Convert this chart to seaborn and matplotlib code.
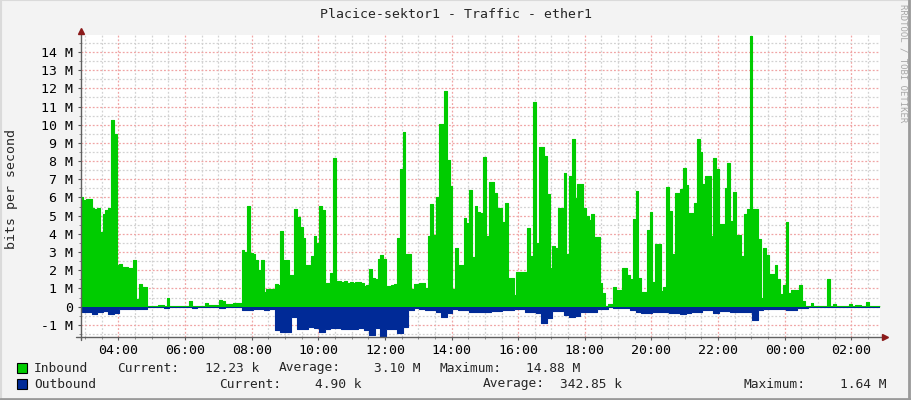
import numpy as np
import pandas as pd
import matplotlib
matplotlib.use("Agg")
import matplotlib.pyplot as plt
import seaborn as sns
from matplotlib.patches import Rectangle
from matplotlib.lines import Line2D
from matplotlib.ticker import MultipleLocator

sns.set_style("white")
plt.rcParams['font.family'] = ['DejaVu Sans Mono']

# traffic in Mbit/s, inbound every 5 min, outbound every 10 min, starting 02:52
inbound_m = [
    6.0, 5.86, 5.93, 5.93, 5.4, 5.35, 5.4, 4.1, 5.1, 5.3, 5.4, 10.26,
    9.5, 2.3, 2.35, 2.2, 2.2, 2.1, 2.1, 2.56, 0.42, 1.25, 1.1, 1.1,
    0.03, 0.03, 0.03, 0.03, 0.07, 0.07, 0.03, 0.5, 0.03, 0.03, 0.03, 0.03,
    0.03, 0.03, 0.03, 0.3, 0.03, 0.03, 0.03, 0.03, 0.03, 0.2, 0.1, 0.07,
    0.07, 0.07, 0.37, 0.3, 0.13, 0.13, 0.13, 0.22, 0.22, 0.2, 3.11, 3.02,
    5.53, 2.93, 2.9, 2.56, 2.01, 2.56, 0.82, 0.99, 0.99, 0.99, 1.25, 1.2,
    4.16, 2.56, 2.56, 1.74, 1.74, 5.37, 4.95, 4.4, 3.75, 2.29, 2.29, 2.8,
    3.9, 3.5, 5.53, 5.31, 1.28, 1.28, 1.87, 8.17, 1.43, 1.4, 1.34, 1.4,
    1.3, 1.34, 1.3, 1.37, 1.34, 1.3, 1.15, 1.2, 2.07, 1.6, 1.52, 2.6,
    2.84, 2.62, 1.15, 1.15, 1.2, 1.25, 3.79, 7.58, 9.6, 2.88, 2.88, 0.99,
    1.25, 1.25, 1.28, 1.28, 1.04, 3.9, 5.64, 3.94, 6.04, 10.04, 10.04, 11.85,
    8.06, 6.63, 0.99, 3.22, 2.29, 2.29, 4.89, 4.58, 6.41, 2.75, 5.53, 5.2,
    5.16, 8.24, 3.9, 6.87, 6.87, 6.23, 5.44, 5.44, 4.67, 5.68, 1.59, 1.59,
    0.64, 1.92, 1.92, 1.92, 1.92, 4.34, 2.8, 11.26, 3.52, 8.79, 8.79, 8.28,
    6.19, 2.14, 3.35, 3.2, 5.44, 5.44, 7.36, 2.88, 7.2, 9.21, 5.95, 6.74,
    6.74, 5.4, 4.98, 4.76, 5.09, 3.85, 3.85, 1.28, 0.73, 0.03, 0.15, 0.15,
    1.06, 0.92, 0.92, 2.1, 2.1, 1.74, 1.52, 4.8, 6.36, 1.56, 0.82, 0.82,
    4.21, 5.18, 1.34, 3.44, 3.44, 0.88, 1.1, 6.59, 5.26, 2.88, 6.23, 6.23,
    6.45, 7.6, 6.68, 5.16, 5.16, 5.68, 9.21, 8.48, 6.74, 7.18, 7.18, 3.88,
    8.15, 7.55, 4.54, 4.54, 6.54, 7.88, 4.7, 6.28, 3.94, 3.94, 2.78, 5.09,
    5.35, 14.88, 5.35, 5.35, 3.72, 0.49, 3.2, 2.84, 1.8, 1.8, 2.29, 1.52,
    0.7, 1.19, 4.63, 0.75, 0.92, 0.92, 0.92, 1.19, 0.31, 0.04, 0.04, 0.22,
    0.04, 0.04, 0.04, 0.04, 0.04, 1.52, 0.04, 0.15, 0.04, 0.04, 0.04, 0.04,
    0.04, 0.15, 0.04, 0.1, 0.1, 0.04, 0.04, 0.26, 0.04, 0.04, 0.04, 0.04,
]
outbound_m = [
    0.27, 0.27, 0.42, 0.31, 0.24, 0.42, 0.35, 0.13, 0.13, 0.13, 0.13, 0.13,
    0.02, 0.02, 0.02, 0.05, 0.02, 0.02, 0.02, 0.02, 0.05, 0.02, 0.02, 0.02,
    0.02, 0.05, 0.02, 0.02, 0.02, 0.18, 0.2, 0.15, 0.15, 0.17, 0.11, 1.3,
    1.37, 1.37, 0.55, 1.25, 1.2, 1.1, 1.19, 1.37, 1.25, 1.19, 1.19, 1.25,
    1.25, 1.22, 1.15, 1.28, 1.56, 1.19, 1.64, 1.25, 1.25, 1.46, 1.1, 0.18,
    0.09, 0.15, 0.18, 0.2, 0.31, 0.55, 0.37, 0.15, 0.18, 0.18, 0.27, 0.27,
    0.31, 0.31, 0.24, 0.24, 0.18, 0.18, 0.11, 0.11, 0.27, 0.27, 0.37, 0.92,
    0.6, 0.24, 0.24, 0.46, 0.59, 0.5, 0.31, 0.31, 0.31, 0.15, 0.15, 0.04,
    0.07, 0.07, 0.07, 0.2, 0.31, 0.37, 0.37, 0.3, 0.27, 0.3, 0.37, 0.37,
    0.42, 0.35, 0.27, 0.27, 0.2, 0.2, 0.33, 0.25, 0.25, 0.27, 0.27, 0.27,
    0.27, 0.73, 0.18, 0.15, 0.15, 0.15, 0.12, 0.2, 0.2, 0.08, 0.07, 0.03,
    0.03, 0.03, 0.03, 0.03, 0.03, 0.03, 0.03, 0.03, 0.03, 0.03, 0.03, 0.03,
]

hour_ticks = [4, 6, 8, 10, 12, 14, 16, 18, 20, 22, 24, 26]
hour_labels = ["04:00", "06:00", "08:00", "10:00", "12:00", "14:00",
               "16:00", "18:00", "20:00", "22:00", "00:00", "02:00"]
y_ticks = list(range(-1, 15))

legend_rows = [
    ("Inbound", ["Current:", "12.23 k", "Average:", "3.10 M", "Maximum:", "14.88 M"]),
    ("Outbound", ["Current:", "4.90 k", "Average:", "342.85 k", "Maximum:", "1.64 M"]),
]

green = "#00CC00"
blue = "#002A97"

start_hour = 2 + 51.7 / 60
end_hour = start_hour + 24

in_t = start_hour + np.arange(len(inbound_m)) * 5 / 60
out_t = start_hour + np.arange(len(outbound_m)) * 10 / 60
df_in = pd.DataFrame({"t": np.append(in_t, end_hour), "v": inbound_m + [inbound_m[-1]]})
df_out = pd.DataFrame({"t": np.append(out_t, end_hour),
                       "v": [-v for v in outbound_m] + [-outbound_m[-1]]})

W, H = 911, 400
fig = plt.figure(figsize=(W / 100, H / 100), dpi=100, facecolor="#F3F3F3")
ax = fig.add_axes([80.5 / W, 1 - 336.7 / H, 799.5 / W, 301.7 / H], facecolor="white")

ax.fill_between(df_in["t"], 0, df_in["v"], step="post", color=green, lw=0, zorder=3)
sns.lineplot(data=df_in, x="t", y="v", drawstyle="steps-post", color=green, lw=0.8, ax=ax, zorder=3)
ax.fill_between(df_out["t"], 0, df_out["v"], step="post", color=blue, lw=0, zorder=3)
sns.lineplot(data=df_out, x="t", y="v", drawstyle="steps-post", color=blue, lw=0.8, ax=ax, zorder=3)

ax.set_xlim(start_hour, end_hour)
ax.set_ylim(-1.65, 14.93)
ax.set_xticks(hour_ticks)
ax.set_xticklabels(hour_labels)
ax.xaxis.set_minor_locator(MultipleLocator(0.5))
ax.set_yticks(y_ticks)
ax.set_yticklabels(["0" if y == 0 else f"{y} M" for y in y_ticks])
ax.yaxis.set_minor_locator(MultipleLocator(0.5))
ax.set_xlabel("")
ax.set_ylabel("")

ax.set_axisbelow(True)
ax.grid(which="major", color="#F0A4A4", linestyle=(0, (1.5, 1.5)), lw=0.9)
ax.grid(which="minor", color="#D2D2D2", linestyle=(0, (1.5, 1.5)), lw=0.9)
ax.tick_params(which="major", direction="out", length=2.5, width=0.8, color="#555555",
               labelsize=9.5, pad=3, labelcolor="black", bottom=True, left=True)
ax.tick_params(which="minor", direction="out", length=1.5, width=0.6, color="#777777",
               bottom=True, left=True)
for s in ax.spines.values():
    s.set_visible(False)

# axes with arrow heads
ax.plot([0, 0], [-0.01, 1.01], transform=ax.transAxes, color="#606060", lw=1, clip_on=False, zorder=5)
ax.plot([-0.0056, 1.005], [0, 0], transform=ax.transAxes, color="#606060", lw=1, clip_on=False, zorder=5)
ax.plot([0], [1.012], marker="^", ms=4.5, color="#8B1A1A", transform=ax.transAxes, clip_on=False, zorder=6)
ax.plot([1.006], [0], marker=">", ms=4.5, color="#8B1A1A", transform=ax.transAxes, clip_on=False, zorder=6)

fig.text(0.5, 1 - 14 / H, "Placice-sektor1 - Traffic - ether1", ha="center", va="center", fontsize=9.5)
fig.text(12 / W, 1 - 189 / H, "bits per second", rotation=90, ha="center", va="center", fontsize=9.5)
fig.text(903 / W, 1 - 4 / H, "RRDTOOL / TOBI OETIKER", rotation=270, ha="center", va="top",
         fontsize=6.5, color="#A8A8A8")

# legend
row_y = [368, 384]
colors = [green, blue]
label_x = [[117, 259, 279, 420, 439, 580], [219, 361.5, 483, 622, 744, 886]]
for (name, parts), y, c, xs in zip(legend_rows, row_y, colors, label_x):
    fig.add_artist(Rectangle((17 / W, 1 - (y + 5) / H), 10 / W, 10 / H, transform=fig.transFigure,
                             fc=c, ec="black", lw=0.8))
    fig.text(34 / W, 1 - y / H, name, ha="left", va="center", fontsize=9.3)
    for i, (txt, x) in enumerate(zip(parts, xs)):
        fig.text(x / W, 1 - y / H, txt, ha="left" if i % 2 == 0 else "right", va="center", fontsize=9.3)

# 3d frame
fig.add_artist(Line2D([0, 1], [0.999, 0.999], transform=fig.transFigure, color="#DADADA", lw=1.5))
fig.add_artist(Line2D([0.001, 0.001], [0, 1], transform=fig.transFigure, color="#DADADA", lw=1.5))
fig.add_artist(Line2D([0, 1], [0.002, 0.002], transform=fig.transFigure, color="#9A9A9A", lw=2))
fig.add_artist(Line2D([0.998, 0.998], [0, 1], transform=fig.transFigure, color="#9A9A9A", lw=2))

fig.savefig("out.png", dpi=100, facecolor=fig.get_facecolor())
